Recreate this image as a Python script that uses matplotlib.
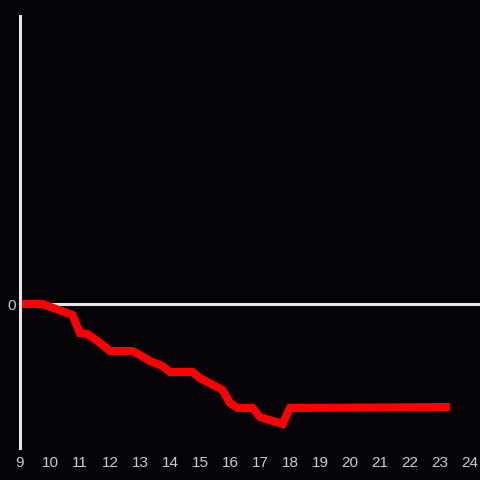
import matplotlib
matplotlib.use("Agg")
import matplotlib.pyplot as plt

# hour of day vs. running value (zero at the start)
hours = [9.0, 9.75, 10.75, 11.0, 11.25, 11.67, 12.0, 12.75, 13.0, 13.33, 13.75,
         14.0, 14.75, 15.0, 15.75, 16.0, 16.25, 16.75, 17.0, 17.75, 18.0, 23.33]
values = [0, 0, -1.1, -2.9, -3.0, -3.9, -4.7, -4.7, -5.1, -5.7, -6.2,
          -6.8, -6.8, -7.4, -8.6, -9.9, -10.4, -10.4, -11.3, -12.0, -10.4, -10.3]
xticks = list(range(9, 25))

bg = "#050307"
fig = plt.figure(figsize=(4.8, 4.8), dpi=100, facecolor=bg)
ax = fig.add_axes([20 / 480, 32 / 480, 460 / 480, 432 / 480], facecolor=bg)

ax.axhline(0, color="#e6e6e6", lw=2.2, zorder=1)
ax.plot(hours, values, color="#ff0000", lw=5.8, solid_joinstyle="miter",
        solid_capstyle="butt", zorder=2)

ax.set_xlim(9, 9 + 460 / 30)
ax.set_ylim(-14.4, 28.8)

for side in ["top", "right", "bottom"]:
    ax.spines[side].set_visible(False)
ax.spines["left"].set_color("#e6e6e6")
ax.spines["left"].set_linewidth(2.2)

ax.set_xticks(xticks)
ax.set_xticklabels([str(t) for t in xticks])
ax.set_yticks([0])
ax.set_yticklabels(["0"])
ax.tick_params(length=0, colors="#cccccc", labelsize=11, pad=6)
for lab in ax.get_xticklabels() + ax.get_yticklabels():
    lab.set_family("Liberation Sans")
ax.tick_params(axis="y", pad=3)

fig.savefig("out.png", dpi=100, facecolor=bg)
